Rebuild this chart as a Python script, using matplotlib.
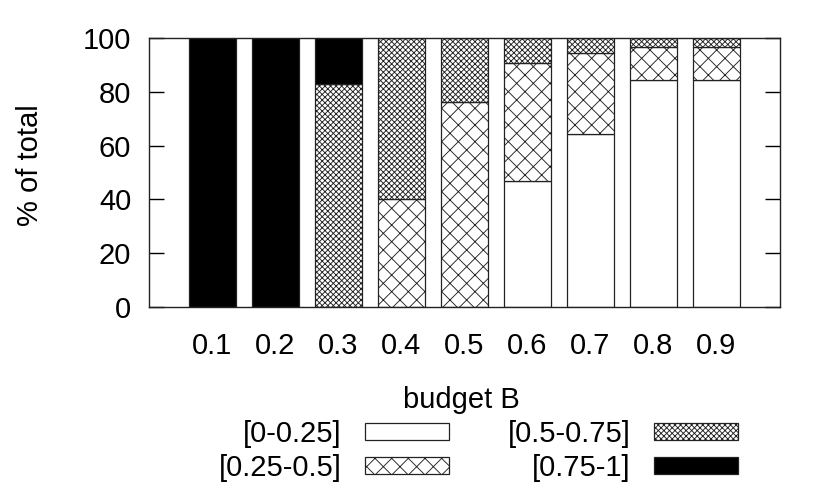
import matplotlib
matplotlib.use("Agg")
import matplotlib.pyplot as plt
import numpy as np

budgets = ["0.1", "0.2", "0.3", "0.4", "0.5", "0.6", "0.7", "0.8", "0.9"]
series_labels = ["[0-0.25]", "[0.25-0.5]", "[0.5-0.75]", "[0.75-1]"]
s_0_025 = [0, 0, 0, 0, 0, 47, 64.3, 84.4, 84.4]
s_025_05 = [0, 0, 0, 40, 76, 43.6, 30, 12, 12]
s_05_075 = [0, 0, 83, 60, 24, 9.4, 5.7, 3.6, 3.6]
s_075_1 = [100, 100, 17, 0, 0, 0, 0, 0, 0]

plt.rcParams['font.family'] = ['Liberation Sans', 'DejaVu Sans']
plt.rcParams['hatch.linewidth'] = 0.65
plt.rcParams['hatch.color'] = 'black'
fs = 21

W, H = 830, 498
fig = plt.figure(figsize=(W / 100, H / 100), dpi=100)
ax = fig.add_axes([149.3 / W, 1 - 307.3 / H, (779.5 - 149.3) / W, (307.3 - 37.7) / H])

x = np.arange(len(budgets))
series = [s_0_025, s_025_05, s_05_075, s_075_1]
styles = [dict(color='white', hatch=None),
          dict(color='white', hatch='xx'),
          dict(color='white', hatch='xxxxxx'),
          dict(color='black', hatch=None)]
bottom = np.zeros(len(budgets))
for vals, lab, st in zip(series, series_labels, styles):
    v = np.array(vals, dtype=float)
    ax.bar(x, v, width=0.75, bottom=bottom, color=st['color'], hatch=st['hatch'],
           edgecolor='#222222', linewidth=0.9, label=lab)
    bottom += v

ax.set_xlim(-1, 9)
ax.set_ylim(0, 100)
ax.set_xticks(x)
ax.set_xticklabels(budgets, fontsize=fs)
ax.set_yticks([0, 20, 40, 60, 80, 100])
ax.tick_params(axis='x', length=0, pad=17.5)
ax.tick_params(axis='y', direction='in', length=10.8, width=1.0, right=True, pad=13, labelsize=fs)
for s in ax.spines.values():
    s.set_linewidth(1.0)
    s.set_color('#222222')
ax.set_ylabel("% of total", fontsize=fs)
ax.yaxis.set_label_coords(-0.1675, 0.528)

leg = ax.legend(ncol=2, markerfirst=False, frameon=False,
                fontsize=fs, handlelength=2.88, handleheight=0.51,
                handletextpad=0.8, columnspacing=2.0, labelspacing=0.2,
                loc='upper left', bbox_to_anchor=(219 / W, 1 - 420 / H),
                bbox_transform=fig.transFigure, borderpad=0, borderaxespad=0)
fig.text(461.5 / W, 1 - 408 / H, "budget B", fontsize=fs, ha='center', va='baseline')

fig.savefig("out.png", dpi=100)
